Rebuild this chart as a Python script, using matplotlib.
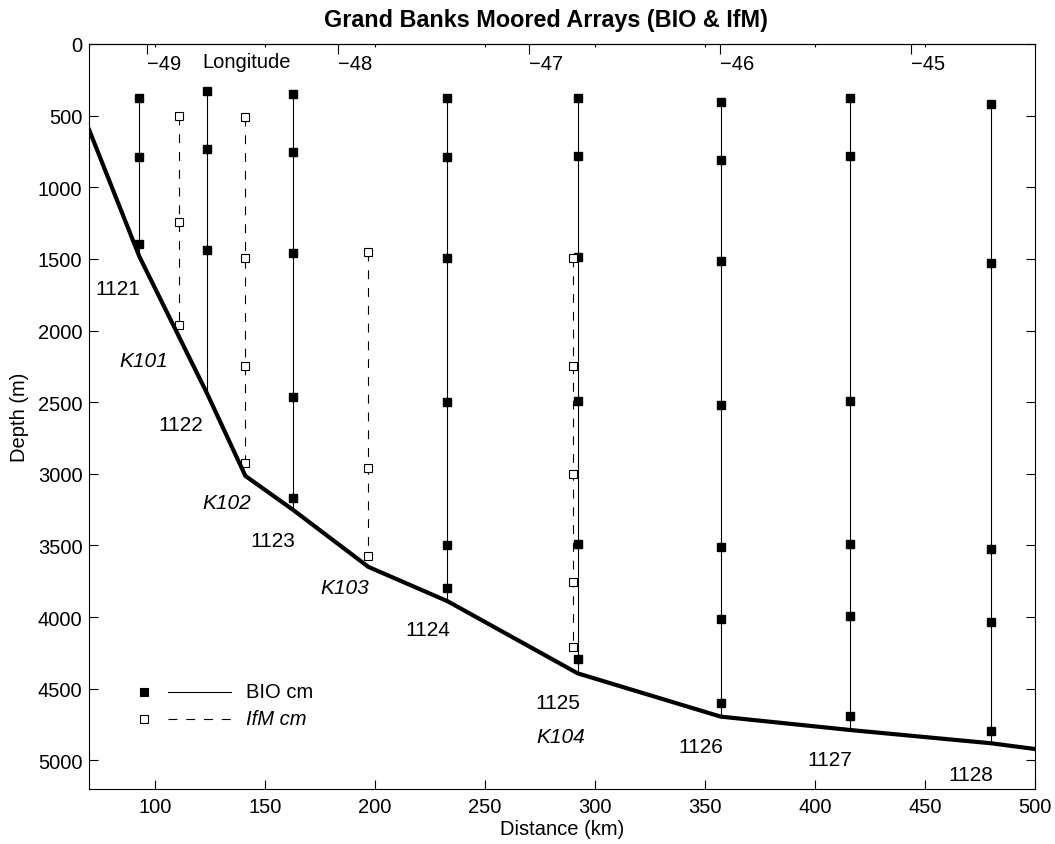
import matplotlib
matplotlib.use("Agg")
import matplotlib.pyplot as plt
from matplotlib.lines import Line2D

plt.rcParams['font.family'] = ['Liberation Sans', 'DejaVu Sans']
plt.rcParams['font.size'] = 14.5
plt.rcParams['axes.linewidth'] = 0.8

# ---- BIO current-meter moorings ----
bio_names = ['1121', '1122', '1123', '1124', '1125', '1126', '1127', '1128']
bio_km = [93.0, 123.8, 162.7, 233.0, 292.2, 357.2, 415.8, 480.1]
bio_cm_depths = [
    [379, 788, 1395],
    [330, 732, 1441],
    [349, 751, 1457, 2464, 3166],
    [379, 786, 1492, 2496, 3495, 3794],
    [377, 781, 1490, 2494, 3491, 4293],
    [407, 813, 1518, 2517, 3510, 4010, 4603],
    [374, 779, 2490, 3487, 3991, 4688],
    [416, 1527, 3526, 4033, 4793],
]
bio_water_depth = [1483, 2440, 3250, 3889, 4393, 4695, 4788, 4881]

# ---- IfM current-meter moorings ----
ifm_names = ['K101', 'K102', 'K103', 'K104']
ifm_km = [111.0, 141.2, 197.1, 290.2]
ifm_cm_depths = [
    [504, 1246, 1960],
    [507, 1495, 2248, 2922],
    [1453, 2957, 3573],
    [1497, 2248, 2999, 3754, 4212],
]

# ---- bottom profile along the section ----
bathy_km = [70, 93.0, 123.8, 141.2, 162.7, 197.1, 233.0, 292.2, 357.2, 415.8, 480.1, 500]
bathy_depth = [592, 1483, 2440, 3015, 3250, 3650, 3889, 4393, 4695, 4788, 4881, 4921]

# longitude ticks along the top
lon_ticks = [-49, -48, -47, -46, -45]
lon_at_km0 = -49.0
km_at_lon0 = 96.5
km_per_deg = 86.75

# label placement (km, m)
bio_label_pos = [(83.1, 1708), (111.7, 2656), (153.5, 3469), (224.2, 4089),
                 (283.0, 4593), (348.0, 4902), (406.8, 4996), (470.9, 5100)]
ifm_label_pos = [(95.1, 2207), (132.8, 3199), (186.5, 3794), (284.6, 4833)]


def km_to_lon(x):
    return lon_at_km0 + (x - km_at_lon0) / km_per_deg


def lon_to_km(lon):
    return km_at_lon0 + (lon - lon_at_km0) * km_per_deg


fig = plt.figure(figsize=(10.55, 8.45), dpi=100)
ax = fig.add_axes([0.08408, 0.06509, 0.8970, 0.8817])

# mooring lines and instruments
for x, depths, bottom in zip(bio_km, bio_cm_depths, bio_water_depth):
    ax.plot([x, x], [depths[0], bottom], color='black', lw=0.8, zorder=2)
    ax.plot([x] * len(depths), depths, linestyle='none', marker='s',
            ms=5.6, mfc='black', mec='black', zorder=3)

for x, depths in zip(ifm_km, ifm_cm_depths):
    ax.plot([x, x], [depths[0], depths[-1]], color='black', lw=0.8,
            linestyle=(0, (8, 8)), zorder=2)
    ax.plot([x] * len(depths), depths, linestyle='none', marker='s',
            ms=5.2, mfc='white', mec='black', mew=0.8, zorder=3)

# sea floor
ax.plot(bathy_km, bathy_depth, color='black', lw=3.0, zorder=4,
        solid_joinstyle='miter')

for name, (x, y) in zip(bio_names, bio_label_pos):
    ax.text(x, y, name, ha='center', va='center', fontsize=15)
for name, (x, y) in zip(ifm_names, ifm_label_pos):
    ax.text(x, y, name, ha='center', va='center', style='italic', fontsize=15)

ax.set_xlim(70, 500)
ax.set_ylim(5200, 0)
ax.set_xticks([100, 150, 200, 250, 300, 350, 400, 450, 500])
ax.set_yticks(range(0, 5001, 500))
ax.tick_params(direction='in', length=6.5, width=0.8, right=True, top=False,
               labelsize=14.5)
ax.tick_params(axis='x', pad=6)
ax.tick_params(axis='y', pad=4.5)

ax.set_xlabel('Distance (km)', labelpad=2)
ax.set_ylabel('Depth (m)', labelpad=6)
ax.set_title('Grand Banks Moored Arrays (BIO & IfM)', fontweight='bold',
             fontsize=16.8, x=0.483, y=1.0, pad=13)

# short mirrored distance ticks along the top
top_km = ax.secondary_xaxis('top')
top_km.set_xticks([100, 150, 200, 250, 300, 350, 400, 450, 500])
top_km.tick_params(direction='in', length=2.5, width=0.8, labeltop=False)

# longitude scale, labelled inside the frame
lon_ax = ax.secondary_xaxis('top', functions=(km_to_lon, lon_to_km))
lon_ax.set_xticks(lon_ticks)
lon_ax.tick_params(direction='in', length=7.5, width=0.8, pad=-21,
                   labelsize=14.5)
lon_ax.spines['top'].set_visible(False)
lon_ax.set_xlabel('Longitude', fontsize=14.5)
lon_ax.xaxis.set_label_coords(0.167, 0.976, transform=ax.transAxes)
lon_ax.xaxis.label.set_va('center')

# legend drawn as a key in the lower-left corner
key_rows = [('BIO cm', 'black', '-', 'normal', 0.1306),
            ('IfM cm', 'white', (0, (8, 8)), 'italic', 0.094)]
for text, face, ls, style, yk in key_rows:
    ax.add_line(Line2D([0.058], [yk], transform=ax.transAxes, marker='s',
                       ms=5.4, mfc=face, mec='black', mew=0.8, linestyle='none'))
    ax.add_line(Line2D([0.0834, 0.150], [yk, yk], transform=ax.transAxes,
                       color='black', lw=0.8, linestyle=ls))
    ax.text(0.166, yk, text, transform=ax.transAxes, va='center', ha='left',
            style=style)

# longitude labels start at their tick
fig.canvas.draw()
for tick in lon_ax.xaxis.get_major_ticks():
    tick.label2.set_horizontalalignment('left')
    tick.label1.set_horizontalalignment('left')

fig.savefig('out.png', dpi=100)
